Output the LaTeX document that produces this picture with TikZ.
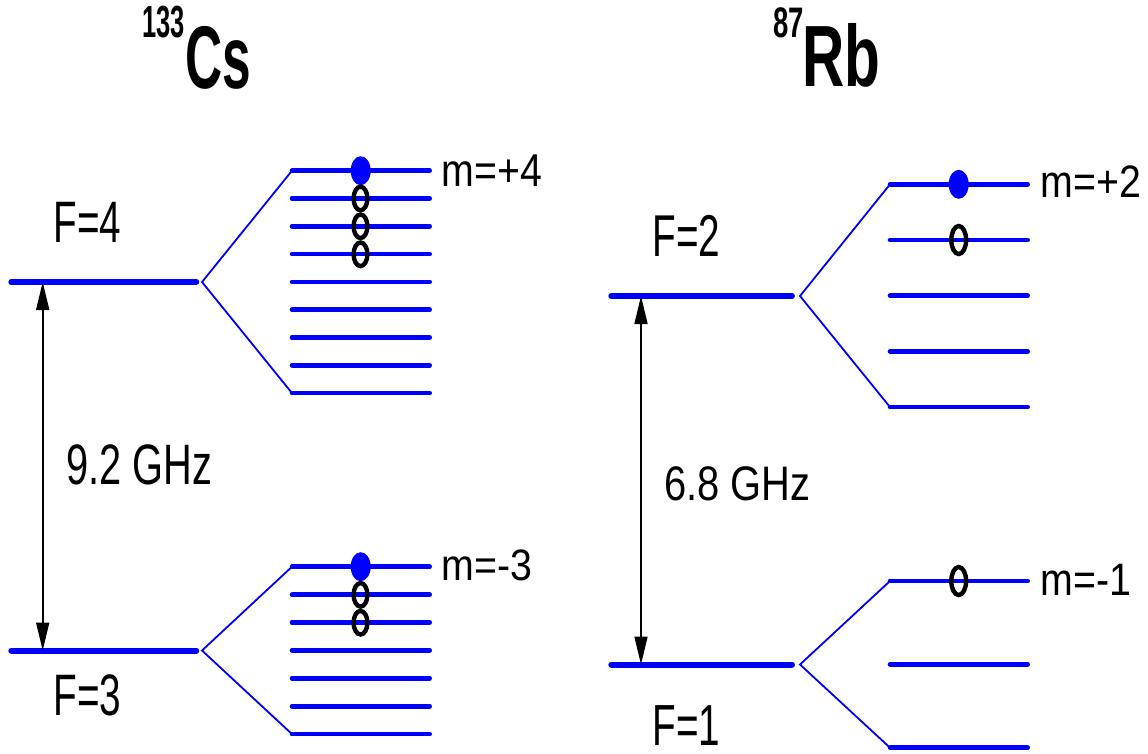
\documentclass[tikz,border=0pt]{standalone}
\usepackage{fontspec}
\setmainfont{Liberation Sans}
\usetikzlibrary{arrows.meta,shapes.geometric}
\definecolor{lvl}{RGB}{0,0,255}
\begin{document}
\begin{tikzpicture}[x=1pt,y=-1pt,
  mainlvl/.style={draw=lvl,line width=6pt,line cap=round},
  sublvl/.style={draw=lvl,line width=4.6pt,line cap=round},
  fan/.style={draw=lvl,line width=1.8pt},
  gap/.style={draw=black,line width=1.6pt,{Triangle[length=28pt,width=13pt]}-{Triangle[length=28pt,width=13pt]}},
  lab/.style={inner sep=0pt,outer sep=0pt,anchor=base west,font=\fontsize{10pt}{12pt}\selectfont},
  full/.style={ellipse,fill=lvl,minimum width=20pt,minimum height=29pt,inner sep=0pt},
  ringcs/.style={ellipse,draw=black,line width=4.4pt,minimum width=13.8pt,minimum height=23.6pt,inner sep=0pt},
  ringrb/.style={ellipse,draw=black,line width=4.4pt,minimum width=14.8pt,minimum height=28pt,inner sep=0pt}]
\useasboundingbox (0,0) rectangle (1148,753);

% ---------- Cs ----------
\coordinate (cs4L) at (11.3,282);
\coordinate (cs4R) at (196.3,282);
\coordinate (cs4A) at (202,282);
\coordinate (cs3L) at (11.3,650.5);
\coordinate (cs3R) at (196.3,650.5);
\coordinate (cs3A) at (202,650.5);
\draw[mainlvl] (cs4L) -- (cs4R);
\draw[mainlvl] (cs3L) -- (cs3R);
\foreach \i in {0,...,8} {
  \path (292,{170.7+27.8*\i}) coordinate (csU\i a) (429.7,{170.7+27.8*\i}) coordinate (csU\i b);
  \draw[sublvl] (csU\i a) -- (csU\i b);
}
\foreach \i in {0,...,6} {
  \path (292,{566.7+27.9*\i}) coordinate (csL\i a) (429.7,{566.7+27.9*\i}) coordinate (csL\i b);
  \draw[sublvl] (csL\i a) -- (csL\i b);
}
\draw[fan] (csU0a) -- (cs4A) -- (csU8a);
\draw[fan] (csL0a) -- (cs3A) -- (csL6a);
\coordinate (csArT) at (42.7,282);
\coordinate (csArB) at (42.7,650.5);
\draw[gap] (csArT) -- (csArB);

\node[full] (csd1) at (360.7,170.7) {};
\node[ringcs] (csr1) at (360.5,198.5) {};
\node[ringcs] (csr2) at (360.5,226.3) {};
\node[ringcs] (csr3) at (360.5,254.3) {};
\node[full] (csd2) at (360.7,566.7) {};
\node[ringcs] (csr4) at (360.5,594.8) {};
\node[ringcs] (csr5) at (360.5,622.7) {};

% ---------- Rb ----------
\coordinate (rb2L) at (611.3,296);
\coordinate (rb2R) at (792,296);
\coordinate (rb2A) at (800,296);
\coordinate (rb1L) at (611.3,664.5);
\coordinate (rb1R) at (792,664.5);
\coordinate (rb1A) at (800,664.5);
\draw[mainlvl] (rb2L) -- (rb2R);
\draw[mainlvl] (rb1L) -- (rb1R);
\foreach \i in {0,...,4} {
  \path (890,{184.3+55.7*\i}) coordinate (rbU\i a) (1027.7,{184.3+55.7*\i}) coordinate (rbU\i b);
  \draw[sublvl] (rbU\i a) -- (rbU\i b);
}
\foreach \i in {0,...,2} {
  \path (890,{581+83.35*\i}) coordinate (rbL\i a) (1027.7,{581+83.35*\i}) coordinate (rbL\i b);
  \draw[sublvl] (rbL\i a) -- (rbL\i b);
}
\draw[fan] (rbU0a) -- (rb2A) -- (rbU4a);
\draw[fan] (rbL0a) -- (rb1A) -- (rbL2a);
\coordinate (rbArT) at (641,296);
\coordinate (rbArB) at (641,664.5);
\draw[gap] (rbArT) -- (rbArB);

\node[full] (rbd1) at (958.7,184.3) {};
\node[ringrb] (rbr1) at (958.7,240) {};
\node[ringrb] (rbr2) at (958.7,581) {};

% ---------- labels ----------
\node[lab] (csmass) at (142.5,37.3) {\scalebox{2.55}[4.5]{\bfseries 133}};
\node[lab] (cstitle) at (185,88) {\scalebox{5.14}[8.9]{\bfseries Cs}};
\node[lab] (rbmass) at (773.5,37.3) {\scalebox{2.75}[4.27]{\bfseries 87}};
\node[lab] (rbtitle) at (802.5,86) {\scalebox{5.85}[8.7]{\bfseries Rb}};

\node[lab] (mp4) at (441.4,186) {\scalebox{3.93}[4.6]{m=+4}};
\node[lab] (mm3) at (441.4,580.5) {\scalebox{3.93}[4.4]{m=-3}};
\node[lab] (mp2) at (1040.4,197) {\scalebox{3.93}[4.55]{m=+2}};
\node[lab] (mm1) at (1040.4,595.5) {\scalebox{3.93}[4.55]{m=-1}};

\node[lab] (f4) at (53.6,242.7) {\scalebox{3.87}[5.85]{F=4}};
\node[lab] (f3) at (53.6,715.7) {\scalebox{3.87}[5.85]{F=3}};
\node[lab] (f2) at (652.6,256.7) {\scalebox{3.87}[5.9]{F=2}};
\node[lab] (f1) at (652.6,745) {\scalebox{3.87}[5.8]{F=1}};

\node[lab] (g92) at (66.6,484.5) {\scalebox{3.98}[5.7]{9.2 GHz}};
\node[lab] (g68) at (664.3,500) {\scalebox{3.99}[4.85]{6.8 GHz}};
\end{tikzpicture}
\end{document}
